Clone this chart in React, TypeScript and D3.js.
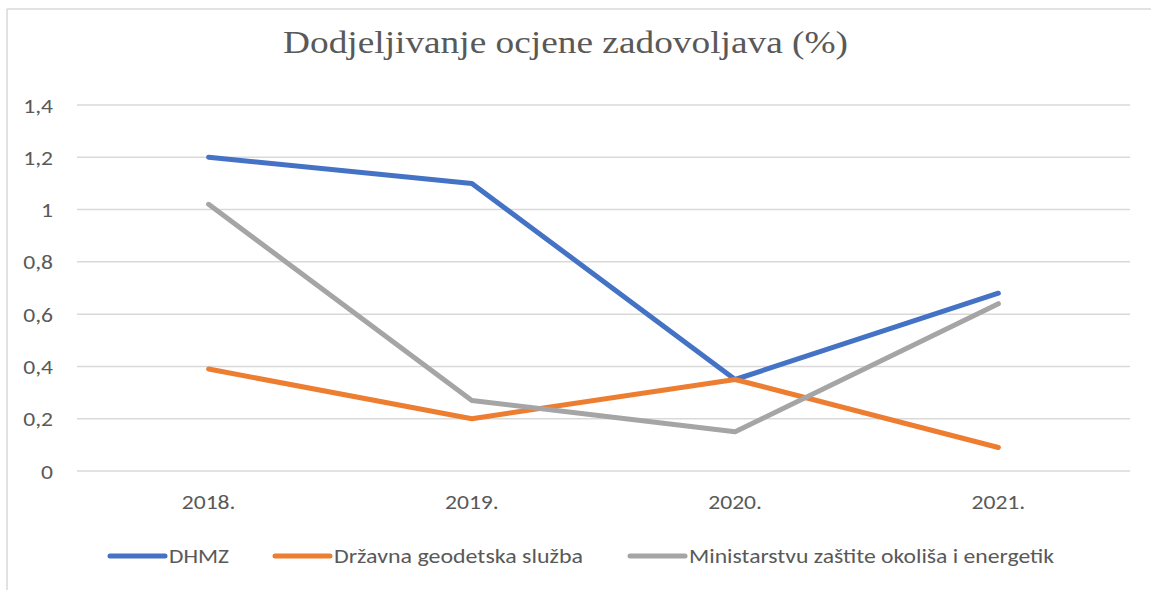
import React from "react";
import * as d3 from "d3";

const categories = ["2018.", "2019.", "2020.", "2021."];
const seriesNames = ["DHMZ", "Državna geodetska služba", "Ministarstvu zaštite okoliša i energetik"];
const dhmz = [1.2, 1.1, 0.35, 0.68];
const dgs = [0.39, 0.2, 0.35, 0.09];
const mzoe = [1.02, 0.27, 0.15, 0.64];
const yTicks = [0, 0.2, 0.4, 0.6, 0.8, 1, 1.2, 1.4];
const colors = ["#4472C4", "#ED7D31", "#A5A5A5"];
const title = "Dodjeljivanje ocjene zadovoljava (%)";

const W = 1151;
const H = 590;
const plotLeft = 77;
const plotRight = 1130;
const plotTop = 105;
const plotBottom = 471;
const SX = 1.18;
const sans = "Carlito, Calibri, Lato, 'Open Sans', sans-serif";

function T(props: {
  x: number;
  y: number;
  anchor?: "start" | "middle" | "end";
  size: number;
  family: string;
  children: React.ReactNode;
  len?: number;
}) {
  return (
    <text
      transform={`translate(${props.x},${props.y}) scale(${SX},1)`}
      textAnchor={props.anchor || "start"}
      fontFamily={props.family}
      fontSize={props.size}
      fill="#595959"
      textLength={props.len ? props.len / SX : undefined}
      lengthAdjust="spacingAndGlyphs"
    >
      {props.children}
    </text>
  );
}

export default function App() {
  const x = d3.scaleBand<string>().domain(categories).range([plotLeft, plotRight]);
  const y = d3.scaleLinear().domain([0, 1.4]).range([plotBottom, plotTop]);
  const line = d3
    .line<number>()
    .x((_, i) => (x(categories[i]) as number) + x.bandwidth() / 2)
    .y((d) => y(d));
  const allSeries = [dhmz, dgs, mzoe];
  const fmt = (v: number) => String(+v.toFixed(1)).replace(".", ",");
  const legendItems = [
    { lx: 110, tx: 169, len: 60 },
    { lx: 275, tx: 334, len: 249 },
    { lx: 630, tx: 689, len: 365 },
  ];
  return (
    <svg width={W} height={H} style={{ position: "absolute", left: 0, top: 0 }}>
      <rect x={0} y={0} width={W} height={H} fill="#fff" />
      <line x1={7} y1={9} x2={W} y2={9} stroke="#d9d9d9" strokeWidth={1.5} />
      <line x1={7} y1={9} x2={7} y2={H} stroke="#d9d9d9" strokeWidth={1.5} />
      <T x={565.5} y={53} anchor="middle" size={32} family="'Liberation Serif', 'Times New Roman', serif" len={565}>
        {title}
      </T>
      {yTicks.map((t) => (
        <g key={t}>
          <line x1={plotLeft} x2={plotRight} y1={y(t)} y2={y(t)} stroke="#d9d9d9" strokeWidth={1.5} />
          <T x={53} y={y(t) + 7.5} anchor="end" size={20} family={sans}>
            {fmt(t)}
          </T>
        </g>
      ))}
      {categories.map((c) => (
        <T key={c} x={(x(c) as number) + x.bandwidth() / 2} y={509} anchor="middle" size={20} family={sans}>
          {c}
        </T>
      ))}
      {allSeries.map((s, i) => (
        <path
          key={i}
          d={line(s) as string}
          fill="none"
          stroke={colors[i]}
          strokeWidth={5}
          strokeLinecap="round"
          strokeLinejoin="round"
        />
      ))}
      {seriesNames.map((n, i) => (
        <g key={n}>
          <line
            x1={legendItems[i].lx}
            x2={legendItems[i].lx + 55}
            y1={556}
            y2={556}
            stroke={colors[i]}
            strokeWidth={5}
            strokeLinecap="round"
          />
          <T x={legendItems[i].tx} y={563} size={20} family={sans} len={legendItems[i].len}>
            {n}
          </T>
        </g>
      ))}
    </svg>
  );
}
